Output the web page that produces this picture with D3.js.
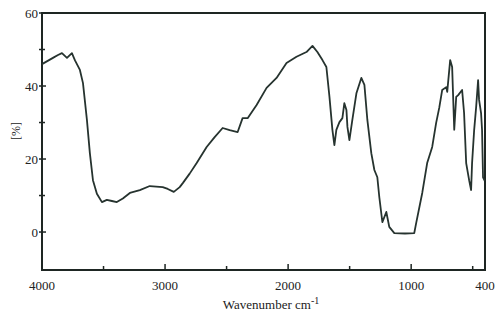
<!DOCTYPE html>
<html>
<head>
<meta charset="utf-8">
<script src="https://cdn.jsdelivr.net/npm/d3@7.9.0/dist/d3.min.js"></script>
<style>
  html, body { margin: 0; padding: 0; background: #fff; }
  svg { display: block; }
</style>
</head>
<body>
<svg id="chart"></svg>
<script>
// spectrum: wavenumber (cm-1) and transmittance (%)
const wavenumber = [4000, 3911, 3870, 3838, 3797, 3757, 3732, 3692, 3667, 3635, 3611, 3586, 3554, 3513,
  3473, 3432, 3392, 3343, 3286, 3205, 3124, 3019, 2978, 2929, 2881, 2856, 2800, 2743, 2662, 2597,
  2532, 2475, 2410, 2370, 2329, 2256, 2175, 2094, 2013, 1932, 1851, 1802, 1762, 1721, 1689, 1664,
  1640, 1624, 1608, 1583, 1559, 1543, 1526, 1518, 1502, 1478, 1445, 1405, 1380, 1356, 1324, 1299,
  1275, 1259, 1234, 1202, 1178, 1137, 1050, 975, 959, 910, 870, 829, 797, 772, 748, 715, 707, 683,
  667, 650, 634, 618, 586, 570, 553, 529, 513, 505, 488, 472, 456, 448, 432, 424, 416, 402];
const transmittance = [46.0, 47.7, 48.5, 49.0, 47.7, 49.0, 47.0, 44.4, 40.8, 30.7, 21.6, 14.2, 10.5, 8.2,
  8.8, 8.5, 8.2, 9.2, 10.7, 11.5, 12.6, 12.3, 11.8, 11.0, 12.3, 13.4, 16.0, 18.9, 23.3, 26.0,
  28.5, 27.9, 27.4, 31.2, 31.2, 34.8, 39.5, 42.2, 46.3, 48.0, 49.3, 51.0, 49.3, 47.1, 45.2, 37.0,
  28.0, 23.8, 28.0, 30.1, 31.2, 35.3, 33.4, 28.8, 25.2, 30.7, 38.0, 42.2, 40.3, 30.7, 21.6, 17.0,
  15.0, 9.6, 2.7, 5.5, 1.4, -0.3, -0.4, -0.3, 2.5, 10.7, 18.9, 23.3, 29.9, 34.0, 38.9, 39.7, 38.4, 47.1,
  45.2, 28.0, 37.0, 37.5, 38.9, 32.6, 18.9, 14.2, 11.5, 18.9, 28.0, 34.2, 41.6, 36.2, 32.6, 28.0, 15.0, 14.0];

const xMajor = [4000, 3000, 2000, 1000, 400];
const xMinor = [3500, 2500, 1500, 500];
const yMajor = [0, 20, 40, 60];
const yMinor = [10, 30, 50];

const W = 501, H = 320;
const margin = { top: 13, right: 16, bottom: 50, left: 42 };
const width = W - margin.left - margin.right;
const height = H - margin.top - margin.bottom;

const svg = d3.select("#chart").attr("width", W).attr("height", H);
const g = svg.append("g").attr("transform", `translate(${margin.left},${margin.top})`);

const x = d3.scaleLinear().domain([4000, 400]).range([0, width]);
const y = d3.scaleLinear().domain([-10.4, 60]).range([height, 0]);

const ink = "#1e2623";
const serif = "'Liberation Serif', 'Times New Roman', serif";

// frame
g.append("rect")
  .attr("width", width).attr("height", height)
  .attr("fill", "none").attr("stroke", ink).attr("stroke-width", 2);

// x ticks (pointing up into the plot)
g.selectAll(".xt").data(xMajor.concat(xMinor)).enter().append("line")
  .attr("x1", d => x(d)).attr("x2", d => x(d))
  .attr("y1", height).attr("y2", d => height - (xMajor.includes(d) ? 6 : 4))
  .attr("stroke", ink).attr("stroke-width", 1.5);

g.selectAll(".xl").data(xMajor).enter().append("text")
  .attr("x", d => x(d)).attr("y", height + 20)
  .attr("text-anchor", "middle")
  .style("font-family", serif).style("font-size", "13px").attr("fill", "#222")
  .text(d => d);

// y ticks (crossing the axis)
g.selectAll(".yt").data(yMajor.concat(yMinor)).enter().append("line")
  .attr("x1", -3).attr("x2", d => yMajor.includes(d) ? 4 : 3)
  .attr("y1", d => y(d)).attr("y2", d => y(d))
  .attr("stroke", ink).attr("stroke-width", 1.5);

g.selectAll(".yl").data(yMajor).enter().append("text")
  .attr("x", -4).attr("y", d => y(d)).attr("dy", "0.35em")
  .attr("text-anchor", "end")
  .style("font-family", serif).style("font-size", "13px").attr("fill", "#222")
  .text(d => d);

// spectrum
const line = d3.line().x((d, i) => x(wavenumber[i])).y(d => y(d));
g.append("path")
  .datum(transmittance)
  .attr("d", line)
  .attr("fill", "none")
  .attr("stroke", "#26332f")
  .attr("stroke-width", 1.8)
  .attr("stroke-linejoin", "round");

// axis titles
const xt = svg.append("text")
  .attr("x", 271).attr("y", 309)
  .attr("text-anchor", "middle")
  .style("font-family", serif).style("font-size", "13px").attr("fill", "#222");
xt.append("tspan").text("Wavenumber cm");
xt.append("tspan").attr("dy", -5).style("font-size", "10px").text("-1");

svg.append("text")
  .attr("transform", "translate(20,131) rotate(-90)")
  .attr("text-anchor", "middle")
  .style("font-family", serif).style("font-size", "12px").attr("fill", "#222")
  .text("[%]");
</script>
</body>
</html>
